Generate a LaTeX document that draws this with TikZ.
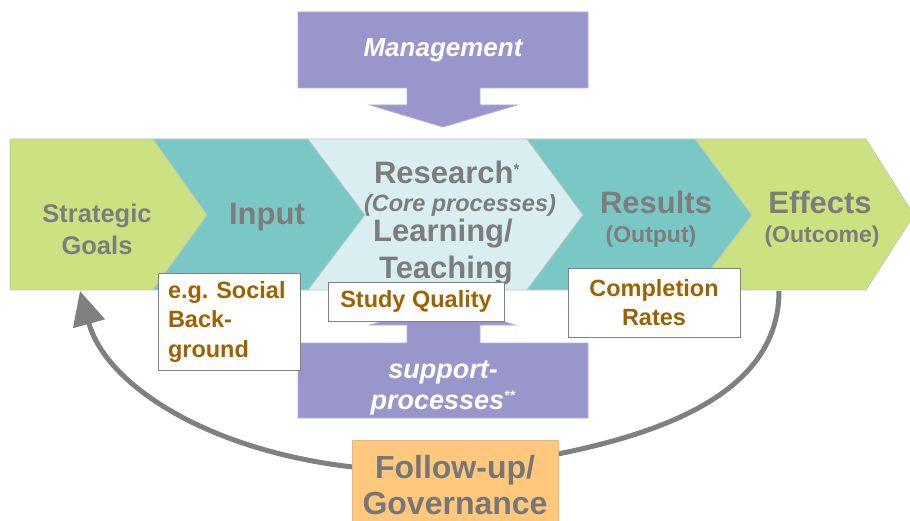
\documentclass[tikz,border=0pt]{standalone}
\usepackage{fontspec}
\setmainfont{Liberation Sans}
\usetikzlibrary{arrows.meta}
\frenchspacing
\definecolor{cgreen}{RGB}{204,226,128}
\definecolor{cteal}{RGB}{122,200,198}
\definecolor{clight}{RGB}{216,238,240}
\definecolor{cpurple}{RGB}{153,150,204}
\definecolor{cpurpleedge}{RGB}{176,174,216}
\definecolor{corange}{RGB}{255,200,125}
\definecolor{corangeedge}{RGB}{236,184,110}
\definecolor{cbrown}{RGB}{158,98,0}
\definecolor{ctext}{RGB}{125,125,125}
\definecolor{carrow}{RGB}{128,128,128}
\definecolor{cedge}{RGB}{190,200,190}
\tikzset{
  chev/.style={draw=cedge, line width=0.7pt},
  bigtxt/.style={text=ctext, font=\bfseries\fontsize{31}{37}\selectfont, inner sep=0pt, align=center},
  subtxt/.style={text=ctext, font=\bfseries\fontsize{23}{28}\selectfont, inner sep=0pt, align=center},
  whitetxt/.style={text=white, font=\bfseries\itshape\fontsize{26}{31}\selectfont, inner sep=0pt, align=center},
  notebox/.style={draw=carrow, fill=white, line width=0.9pt, text=cbrown, font=\bfseries\fontsize{23.5}{29.5}\selectfont, inner sep=0pt},
  purplearrow/.style={fill=cpurple, draw=cpurpleedge, line width=0.8pt}
}
\begin{document}
\begin{tikzpicture}[x=1pt,y=-1pt]
\useasboundingbox (0,0) rectangle (910,521);
\clip (0,0) rectangle (910,521);
\fill[white] (0,0) rectangle (910,521);
% chevron band
\filldraw[chev, fill=cgreen] (10,139) -- (153,139) -- (207,215) -- (153,290) -- (10,290) -- cycle;
\filldraw[chev, fill=cteal] (153,139) -- (308,139) -- (365,215) -- (308,290) -- (153,290) -- (207,215) -- cycle;
\filldraw[chev, fill=clight] (308,139) -- (527,139) -- (583,215) -- (527,290) -- (308,290) -- (365,215) -- cycle;
\filldraw[chev, fill=cteal] (527,139) -- (695,139) -- (752,215) -- (695,290) -- (527,290) -- (583,215) -- cycle;
\filldraw[chev, fill=cgreen] (695,139) -- (866,139) -- (914,215) -- (866,290) -- (695,290) -- (752,215) -- cycle;
% chevron texts
\node[bigtxt, font=\bfseries\fontsize{25.5}{32}\selectfont] (goals) at (97,229) {Strategic\\Goals};
\node[bigtxt] (input) at (267,217) {Input};
\node[bigtxt] (research) at (447,172) {Research\textsuperscript{\fontsize{15}{15}\selectfont *}};
\node[subtxt, font=\bfseries\itshape\fontsize{23.5}{28}\selectfont] (core) at (460,205) {(Core processes)};
\node[bigtxt] (learning) at (443,234) {Learning/};
\node[bigtxt] (teaching) at (446,271) {Teaching};
\node[bigtxt] (results) at (656,202) {Results};
\node[subtxt] (output) at (651,237) {(Output)};
\node[bigtxt] (effects) at (820,202) {Effects};
\node[subtxt] (outcome) at (822,237) {(Outcome)};
% feedback curve
\coordinate (effB) at (779,291);
\coordinate (low) at (455,470);
\coordinate (stratB) at (80,291);
\draw[carrow, line width=5pt, -{Triangle[length=34pt,width=32pt]}]
  (effB) .. controls (779,410) and (620,450) .. (low)
  .. controls (260,480) and (110,400) .. (stratB);
% management arrow
\filldraw[purplearrow] (298,12) -- (588,12) -- (588,88) -- (480,88) -- (480,105) -- (517,105) -- (443,127) -- (370,105) -- (407,105) -- (407,88) -- (298,88) -- cycle;
\node[whitetxt] (mgmt) at (443,50) {Management};
% support arrow
\filldraw[purplearrow] (298,418) -- (588,418) -- (588,343) -- (480,343) -- (480,325) -- (515,325) -- (443,303) -- (370,325) -- (407,325) -- (407,343) -- (298,343) -- cycle;
\node[whitetxt, font=\bfseries\itshape\fontsize{27}{31}\selectfont] (support) at (443,388) {support-\\processes\textsuperscript{\fontsize{14}{14}\selectfont **}};
% note boxes
\node[notebox, minimum width=176pt, minimum height=39pt] (quality) at (416,301.5) {Study Quality};
\node[notebox, minimum width=142pt, minimum height=97pt, text width=122pt, align=left] (social) at (229,321.5) {e.g. Social\\Back-\\ground};
\node[notebox, minimum width=172pt, minimum height=69pt, align=center] (completion) at (654,302.5) {Completion\\Rates};
% follow-up box
\node[fill=corange, draw=corangeedge, line width=0.8pt, minimum width=206pt, minimum height=100pt, anchor=north, inner sep=0pt] (follow) at (455,440) {};
\node[bigtxt, text=ctext!95!black, font=\bfseries\fontsize{32}{36}\selectfont] (followtxt) at (455,485) {Follow-up/\\Governance};
\end{tikzpicture}
\end{document}
